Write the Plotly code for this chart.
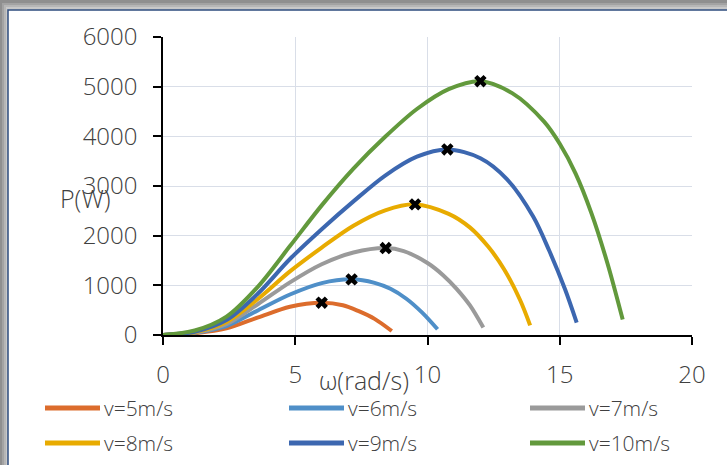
import plotly.graph_objects as go

# ---------------- data ----------------
series_names = ["v=5m/s", "v=6m/s", "v=7m/s", "v=8m/s", "v=9m/s", "v=10m/s"]
series_colors = ["#DC6C2C", "#4F8FC8", "#9A9A9A", "#E8AB00", "#3C67B0", "#62993C"]

w_v5 = [0, 1.2, 2.4, 3.6, 4.8, 6.0, 6.8, 7.4, 8.0, 8.65]
p_v5 = [0, 35, 133, 355, 570, 650, 600, 480, 325, 80]

w_v6 = [0, 1.2, 2.4, 3.6, 4.8, 6.0, 7.13, 8.0, 8.6, 9.2, 9.8, 10.38]
p_v6 = [0, 45, 180, 500, 815, 1045, 1120, 1050, 930, 730, 450, 115]

w_v7 = [0, 1.2, 2.4, 3.6, 4.8, 6.0, 7.2, 8.42, 9.1, 10.0, 10.6, 11.1, 11.6, 12.11]
p_v7 = [0, 50, 220, 625, 1060, 1425, 1660, 1750, 1690, 1450, 1200, 930, 600, 150]

w_v8 = [0, 1.2, 2.4, 3.6, 4.8, 6.0, 7.2, 8.4, 9.53, 10.8, 11.6, 12.3, 12.9, 13.5, 13.88]
p_v8 = [0, 55, 260, 730, 1280, 1760, 2200, 2510, 2630, 2440, 2167, 1775, 1320, 704, 195]

w_v9 = [0, 1.2, 2.4, 3.6, 4.8, 6.0, 7.2, 8.4, 9.6, 10.75, 12.0, 13.0, 14.0, 14.6, 15.2, 15.64]
p_v9 = [0, 65, 300, 840, 1530, 2130, 2690, 3210, 3590, 3736, 3560, 3140, 2380, 1700, 920, 250]

w_v10 = [0, 1.2, 2.4, 3.6, 4.8, 6.0, 7.2, 8.4, 9.6, 10.8, 12.0, 13.2, 14.4, 15.0, 15.6, 16.2, 16.8, 17.38]
p_v10 = [0, 90, 370, 980, 1790, 2610, 3350, 3990, 4550, 4950, 5110, 4870, 4300, 3850, 3250, 2450, 1450, 310]

peak_w = [6.0, 7.13, 8.42, 9.53, 10.75, 12.0]
peak_p = [650, 1120, 1750, 2630, 3736, 5110]

x_ticks = [0, 5, 10, 15, 20]
y_ticks = [0, 1000, 2000, 3000, 4000, 5000, 6000]

x_title = "ω(rad/s)"
y_title = "P(W)"

# ---------------- layout geometry ----------------
W, H = 727, 465
ML, MR, MT, MB = 163, 35, 37, 130
PW, PH = W - ML - MR, H - MT - MB


def px_x(px):
    return (px - ML) / PW


def px_y(py):
    return (H - MB - py) / PH


FONT = "Open Sans"
TXT = "#404040"

fig = go.Figure()

all_w = [w_v5, w_v6, w_v7, w_v8, w_v9, w_v10]
all_p = [p_v5, p_v6, p_v7, p_v8, p_v9, p_v10]
for name, col, ws, ps in zip(series_names, series_colors, all_w, all_p):
    fig.add_trace(go.Scatter(
        x=ws, y=ps, mode="lines", name=name,
        line=dict(color=col, width=4, shape="spline", smoothing=0.9),
        showlegend=False, hoverinfo="x+y+name"))

fig.add_trace(go.Scatter(
    x=peak_w, y=peak_p, mode="markers", name="Pmax",
    marker=dict(symbol="x", size=11, color="black", line=dict(width=0)),
    showlegend=False))

shapes = []
# grey page shadow + white chart frame
shapes.append(dict(type="rect", xref="paper", yref="paper",
                   x0=px_x(-5), x1=px_x(W + 5), y0=px_y(H + 5), y1=px_y(-5),
                   fillcolor="#8f8f8f", line=dict(width=0), layer="below"))
for i, c in enumerate(["#a3a3a3", "#b6b6b6", "#c8c8c8", "#d8d8d8"]):
    o = 2 * (i + 1)
    shapes.append(dict(type="rect", xref="paper", yref="paper",
                       x0=px_x(o), x1=px_x(W + 5), y0=px_y(H + 5), y1=px_y(o + 1),
                       fillcolor=c, line=dict(width=0), layer="below"))
shapes.append(dict(type="rect", xref="paper", yref="paper",
                   x0=px_x(8), x1=px_x(W + 20), y0=px_y(H + 20), y1=px_y(10),
                   fillcolor="white", line=dict(color="#2E4C7E", width=1.5),
                   layer="below"))

# manual legend
leg_cols = [45, 289, 530]
leg_rows = [408, 443]
annotations = []
for i, (name, col) in enumerate(zip(series_names, series_colors)):
    cx = leg_cols[i % 3]
    cy = leg_rows[i // 3]
    shapes.append(dict(type="line", xref="paper", yref="paper",
                       x0=px_x(cx), x1=px_x(cx + 55), y0=px_y(cy), y1=px_y(cy),
                       line=dict(color=col, width=5)))
    annotations.append(dict(text=name, xref="paper", yref="paper",
                            x=px_x(cx + 57), y=px_y(cy), xanchor="left",
                            yanchor="middle", showarrow=False,
                            font=dict(family=FONT, size=21, color=TXT, weight=300)))

annotations.append(dict(text=y_title, xref="paper", yref="paper",
                        x=px_x(85), y=px_y(198), xanchor="center", yanchor="middle",
                        showarrow=False,
                        font=dict(family=FONT, size=25, color=TXT, weight=300)))
annotations.append(dict(text=x_title, xref="paper", yref="paper",
                        x=px_x(364), y=px_y(380), xanchor="center", yanchor="middle",
                        showarrow=False,
                        font=dict(family=FONT, size=25, color=TXT, weight=300)))

fig.update_layout(
    width=W, height=H,
    margin=dict(l=ML, r=MR, t=MT, b=MB, pad=0),
    paper_bgcolor="white",
    plot_bgcolor="rgba(0,0,0,0)",
    shapes=shapes,
    annotations=annotations,
    showlegend=False,
    font=dict(family=FONT, color=TXT),
    xaxis=dict(range=[0, 20], tickvals=x_ticks, ticktext=[str(v) for v in x_ticks],
               showgrid=True, gridcolor="#D9DEE8", gridwidth=1,
               zeroline=False, showline=True, linecolor="black", linewidth=1.5,
               ticks="outside", ticklen=8, tickcolor="black", tickwidth=1.5,
               ticklabelstandoff=9,
               tickfont=dict(family=FONT, size=24, color=TXT, weight=300),
               fixedrange=True),
    yaxis=dict(range=[0, 6000], tickvals=y_ticks, ticktext=[str(v) for v in y_ticks],
               showgrid=True, gridcolor="#D9DEE8", gridwidth=1,
               zeroline=False, showline=True, linecolor="black", linewidth=1.5,
               ticks="outside", ticklen=8, tickcolor="black", tickwidth=1.5,
               ticklabelstandoff=11,
               tickfont=dict(family=FONT, size=24, color=TXT, weight=300),
               fixedrange=True),
)

fig.write_html("out.html",
               config={"displayModeBar": False, "staticPlot": False},
               post_script="document.body.style.margin='0px';"
                           "document.body.style.overflow='hidden';")
